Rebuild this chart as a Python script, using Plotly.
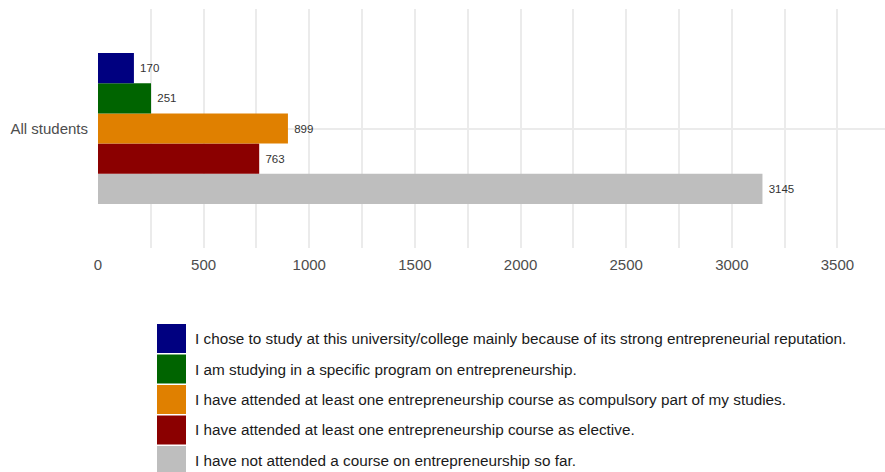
import plotly.graph_objects as go

# Survey data: one respondent group, five answer options
group = ["All students"]
answers = [
    "I chose to study at this university/college mainly because of its strong entrepreneurial reputation.",
    "I am studying in a specific program on entrepreneurship.",
    "I have attended at least one entrepreneurship course as compulsory part of my studies.",
    "I have attended at least one entrepreneurship course as elective.",
    "I have not attended a course on entrepreneurship so far.",
]
counts = [170, 251, 899, 763, 3145]
colors = ["#000080", "#006400", "#E08000", "#8B0000", "#BEBEBE"]
x_ticks = [0, 500, 1000, 1500, 2000, 2500, 3000, 3500]

W, H = 885, 472
L, R, T, B = 98, 0, 9, 224
FONT = "Liberation Sans, Arial, sans-serif"
GRID = "#EBEBEB"

fig = go.Figure()

# Plotly stacks horizontal groups bottom-up, so add the last answer first
for name, n, c in reversed(list(zip(answers, counts, colors))):
    fig.add_trace(go.Bar(
        y=group, x=[n], name=name, orientation="h",
        marker=dict(color=c, line_width=0),
        text=[n], texttemplate="\u00a0%{x}", textposition="outside",
        textfont=dict(size=11.5, color="#333333", family=FONT),
        cliponaxis=False, showlegend=False,
    ))


def paper_x(px):
    return (px - L) / (W - L - R)


def paper_y(py):
    return (H - B - py) / (H - T - B)


# Hand-built legend below the plot: colour keys with their labels
shapes, annotations = [], []
key_x0, key_x1 = 157, 186
row_top, row_step, key_h = 324, 30.5, 29
for i, (name, c) in enumerate(zip(answers, colors)):
    top = row_top + i * row_step
    shapes.append(dict(
        type="rect", xref="paper", yref="paper",
        x0=paper_x(key_x0), x1=paper_x(key_x1),
        y0=paper_y(top), y1=paper_y(top + key_h),
        fillcolor=c, line_width=0, layer="above",
    ))
    annotations.append(dict(
        xref="paper", yref="paper",
        x=paper_x(193), y=paper_y(top + key_h / 2),
        xanchor="left", yanchor="middle", showarrow=False,
        text=name, font=dict(size=15.3, color="#1A1A1A", family=FONT),
    ))

fig.update_layout(
    width=W, height=H,
    margin=dict(l=L, r=R, t=T, b=B, pad=0),
    paper_bgcolor="white", plot_bgcolor="white",
    barmode="group", bargap=0.368, bargroupgap=0,
    font=dict(family=FONT, color="#4D4D4D"),
    shapes=shapes, annotations=annotations,
    xaxis=dict(
        range=[0, 3725], tickvals=x_ticks,
        showgrid=True, gridcolor=GRID, gridwidth=1.5,
        minor=dict(dtick=250, tick0=0, showgrid=True, gridcolor=GRID, gridwidth=1.5),
        zeroline=False, showline=False, ticks="",
        tickfont=dict(size=15, color="#4D4D4D"),
        ticklabelstandoff=6,
    ),
    yaxis=dict(
        range=[-0.5, 0.5],
        showgrid=True, gridcolor=GRID, gridwidth=1.5,
        zeroline=False, showline=False, ticks="",
        tickfont=dict(size=15, color="#4D4D4D"),
        ticklabelstandoff=9,
    ),
)

fig.write_html("out.html")
